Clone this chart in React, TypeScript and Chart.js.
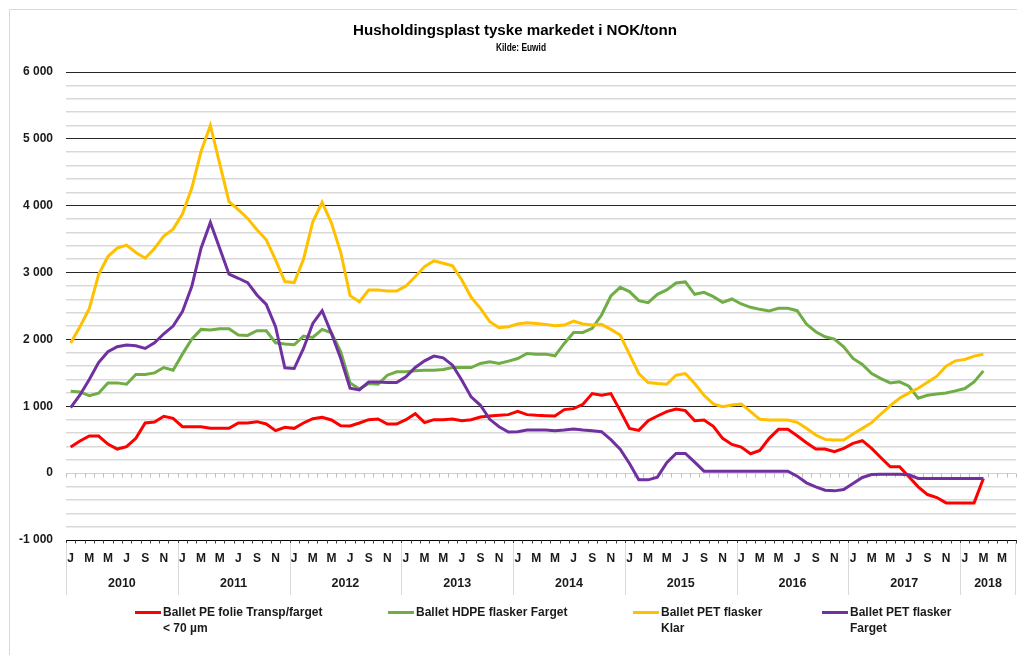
import React, { useEffect, useRef } from 'react';
import { Chart, registerables } from 'chart.js';

Chart.register(...registerables);

const FONT = '"Liberation Sans", Arial, sans-serif';

const YEARS = [2010, 2011, 2012, 2013, 2014, 2015, 2016, 2017, 2018];
const MONTHS = ['J', 'F', 'M', 'A', 'M', 'J', 'J', 'A', 'S', 'O', 'N', 'D'];
const MONTH_COUNT_2018 = 6;

// Monthly prices NOK/tonn, Jan 2010 – Mar 2018
const peFolie = [
  390, 480, 555, 555, 435, 360, 395, 520, 750, 765, 850, 820,
  695, 695, 695, 670, 670, 670, 750, 750, 770, 735, 635, 685,
  670, 750, 815, 835, 795, 710, 705, 750, 800, 810, 735, 735,
  800, 890, 755, 800, 800, 810, 785, 800, 840, 855, 865, 875,
  925, 875, 865, 860, 855, 950, 965, 1030, 1190, 1165, 1190, 935,
  670, 640, 785, 855, 920, 960, 935, 785, 795, 700, 520, 430,
  390, 290, 340, 520, 655, 655, 560, 455, 360, 360, 320, 370,
  445, 485, 370, 230, 95, 95, -55, -205, -320, -365, -445, -445,
  -445, -445, -80,
];

const hdpeFarget = [
  1225, 1215, 1160, 1195, 1350, 1350, 1330, 1475, 1475, 1500, 1580, 1540,
  1780, 2005, 2150, 2140, 2160, 2160, 2065, 2060, 2130, 2130, 1950, 1930,
  1920, 2050, 2030, 2150, 2100, 1815, 1350, 1260, 1340, 1330, 1465, 1515,
  1515, 1530, 1540, 1540, 1550, 1580, 1580, 1580, 1640, 1665, 1640, 1675,
  1715, 1790, 1780, 1780, 1755, 1940, 2105, 2105, 2165, 2365, 2650, 2780,
  2715, 2580, 2550, 2675, 2740, 2845, 2860, 2675, 2705, 2640, 2555, 2605,
  2530, 2480, 2450, 2425, 2465, 2465, 2430, 2230, 2115, 2040, 2005, 1890,
  1715, 1625, 1490, 1415, 1350, 1365, 1300, 1120, 1165, 1185, 1200, 1230,
  1265, 1365, 1530,
];

const petKlar = [
  1945, 2190, 2460, 2970, 3240, 3365, 3410, 3300, 3215, 3360, 3545, 3650,
  3875, 4260, 4810, 5200, 4630, 4060, 3940, 3810, 3640, 3490, 3190, 2865,
  2850, 3200, 3760, 4050, 3740, 3300, 2655, 2565, 2740, 2740, 2725, 2725,
  2800, 2940, 3090, 3175, 3140, 3100, 2890, 2630, 2465, 2265, 2175, 2190,
  2230, 2250, 2240, 2225, 2205, 2215, 2275, 2230, 2215, 2225, 2150, 2065,
  1775, 1490, 1355, 1340, 1330, 1465, 1490, 1340, 1165, 1035, 995, 1020,
  1035, 920, 805, 795, 795, 795, 760, 670, 570, 505, 495, 495,
  585, 670, 755, 885, 1010, 1120, 1200, 1270, 1360, 1450, 1600, 1680,
  1700, 1750, 1780,
];

const petFarget = [
  980, 1170, 1400, 1655, 1815, 1890, 1915, 1905, 1865, 1950, 2085, 2200,
  2415, 2790, 3365, 3750, 3365, 2975, 2915, 2850, 2665, 2525, 2190, 1575,
  1565, 1865, 2240, 2430, 2090, 1715, 1270, 1245, 1365, 1365, 1355, 1355,
  1440, 1580, 1680, 1750, 1725, 1615, 1390, 1140, 1015, 805, 695, 615,
  620, 645, 645, 645, 635, 645, 660, 645, 635, 620, 500, 360,
  145, -100, -100, -60, 155, 294, 294, 165, 30, 30, 30, 30,
  30, 30, 30, 30, 30, 30, -45, -145, -205, -255, -265, -245,
  -155, -65, -20, -15, -15, -15, -25, -80, -80, -80, -80, -80,
  -80, -80, -80,
];

const SERIES_NAMES = [
  ['Ballet PE folie Transp/farget', '< 70 µm'],
  ['Ballet HDPE flasker Farget'],
  ['Ballet PET flasker', 'Klar'],
  ['Ballet PET flasker', 'Farget'],
];
const SERIES_COLORS = ['#FF0000', '#70AD47', '#FFC000', '#7030A0'];
const LEGEND_X = [135, 388, 633, 822];

const TITLE = 'Husholdingsplast tyske markedet i NOK/tonn';
const SUBTITLE = 'Kilde: Euwid';

const Y_MIN = -1000;
const Y_MAX = 6000;
const Y_STEP = 200;

const categories: string[] = [];
YEARS.forEach((yr) => {
  const n = yr === 2018 ? MONTH_COUNT_2018 : 12;
  for (let m = 0; m < n; m++) categories.push(MONTHS[m] + ' ' + yr);
});

function fmt(v: number): string {
  const abs = Math.abs(v);
  const s = String(abs).replace(/\B(?=(\d{3})+(?!\d))/g, ' ');
  return v < 0 ? '-' + s : s;
}

function fittedText(ctx: CanvasRenderingContext2D, text: string, cx: number, cy: number, width: number) {
  const w = ctx.measureText(text).width;
  const sx = w > 0 ? width / w : 1;
  ctx.save();
  ctx.translate(cx, cy);
  ctx.scale(sx, 1);
  ctx.fillText(text, 0, 0);
  ctx.restore();
}

const customPlugin = {
  id: 'customDecor',
  beforeDatasetsDraw(chart: any) {
    const ctx = chart.ctx;
    const xs = chart.scales.x;
    const y0 = Math.round(chart.scales.y.getPixelForValue(0)) + 0.5;
    const bottom = Math.round(chart.chartArea.bottom) + 0.5;
    const n = categories.length;
    const band = (xs.right - xs.left) / n;
    ctx.save();
    ctx.lineWidth = 1;
    ctx.strokeStyle = '#bfbfbf';
    ctx.beginPath();
    for (let i = 0; i <= n; i++) {
      const px = Math.round(xs.left + i * band) + 0.5;
      ctx.moveTo(px, y0);
      ctx.lineTo(px, y0 + 4);
    }
    ctx.stroke();
    ctx.strokeStyle = '#404040';
    ctx.beginPath();
    for (let i = 0; i <= n; i++) {
      const px = Math.round(xs.left + i * band) + 0.5;
      ctx.moveTo(px, bottom);
      ctx.lineTo(px, bottom + 3);
    }
    ctx.stroke();
    ctx.restore();
  },
  afterDraw(chart: any) {
    const ctx = chart.ctx;
    const xs = chart.scales.x;
    const n = categories.length;
    const band = (xs.right - xs.left) / n;
    const bottom = chart.chartArea.bottom;
    ctx.save();

    // outer frame
    ctx.strokeStyle = '#d9d9d9';
    ctx.lineWidth = 1;
    ctx.beginPath();
    ctx.moveTo(9.5, 655);
    ctx.lineTo(9.5, 9.5);
    ctx.lineTo(1017, 9.5);
    ctx.stroke();

    // title
    ctx.fillStyle = '#000';
    ctx.textAlign = 'center';
    ctx.textBaseline = 'middle';
    ctx.font = 'bold 14.5px ' + FONT;
    fittedText(ctx, TITLE, 515, 31, 324);
    ctx.font = 'bold 10.5px ' + FONT;
    fittedText(ctx, SUBTITLE, 521, 48, 50);

    // year separators & labels
    let start = 0;
    ctx.strokeStyle = '#d9d9d9';
    ctx.beginPath();
    YEARS.forEach((yr) => {
      const cnt = yr === 2018 ? MONTH_COUNT_2018 : 12;
      const x0 = xs.left + start * band;
      const x1 = xs.left + (start + cnt) * band;
      const px = Math.round(x0) + 0.5;
      ctx.moveTo(px, bottom + 3);
      ctx.lineTo(px, bottom + 55);
      start += cnt;
      ctx.fillStyle = '#1a1a1a';
      ctx.font = 'bold 12.5px ' + FONT;
      ctx.fillText(String(yr), (x0 + x1) / 2, bottom + 44);
      if (start >= n) {
        const pe = Math.round(x1) - 0.5;
        ctx.moveTo(pe, bottom + 3);
        ctx.lineTo(pe, bottom + 55);
      }
    });
    ctx.stroke();

    // legend
    ctx.textAlign = 'left';
    ctx.font = 'bold 12px ' + FONT;
    SERIES_NAMES.forEach((lines, i) => {
      const lx = LEGEND_X[i];
      ctx.strokeStyle = SERIES_COLORS[i];
      ctx.lineWidth = 3;
      ctx.beginPath();
      ctx.moveTo(lx, 612.5);
      ctx.lineTo(lx + 26, 612.5);
      ctx.stroke();
      ctx.fillStyle = '#1a1a1a';
      lines.forEach((t, j) => {
        ctx.fillText(t, lx + 28, 613 + j * 16);
      });
    });
    ctx.restore();
  },
};

export default function App() {
  const canvasRef = useRef<HTMLCanvasElement | null>(null);

  useEffect(() => {
    const canvas = canvasRef.current;
    if (!canvas) return;
    const datasets = [peFolie, hdpeFarget, petKlar, petFarget].map((d, i) => ({
      label: SERIES_NAMES[i].join(' '),
      data: d,
      borderColor: SERIES_COLORS[i],
      backgroundColor: SERIES_COLORS[i],
      borderWidth: 3,
      pointRadius: 0,
      tension: 0,
      fill: false,
      order: 3 - i,
    }));

    const chart = new Chart(canvas, {
      type: 'line',
      data: { labels: categories, datasets },
      options: {
        responsive: false,
        animation: false,
        devicePixelRatio: 1,
        layout: { padding: { left: 0, top: 72, right: 1, bottom: 0 } },
        plugins: {
          legend: { display: false },
          title: { display: false },
          tooltip: { enabled: false },
        },
        scales: {
          x: {
            type: 'category',
            offset: true,
            afterFit: (s: any) => {
              s.height = 115;
            },
            grid: {
              offset: true,
              drawOnChartArea: false,
              drawTicks: true,
              tickLength: 6,
              color: 'rgba(0,0,0,0)',
            },
            border: { display: true, color: '#000', width: 1 },
            ticks: {
              autoSkip: false,
              maxRotation: 0,
              minRotation: 0,
              padding: 5,
              color: '#1a1a1a',
              font: { family: FONT, weight: 'bold', size: 12 },
              callback: (_v: any, index: number) => {
                const m = index % 12;
                return m % 2 === 0 ? MONTHS[m] : '';
              },
            },
          },
          y: {
            min: Y_MIN,
            max: Y_MAX,
            afterFit: (s: any) => {
              s.width = 66;
            },
            border: { display: false },
            grid: {
              drawTicks: false,
              color: (c: any) => {
                const v = c.tick.value;
                if (v === 0) return '#d0d0d0';
                return v % 1000 === 0 ? '#262626' : '#d9d9d9';
              },
              lineWidth: (c: any) => {
                const v = c.tick.value;
                if (v === 0) return 1;
                return v % 1000 === 0 ? 1 : 1.5;
              },
            },
            ticks: {
              stepSize: Y_STEP,
              autoSkip: false,
              padding: 13,
              color: '#1a1a1a',
              font: { family: FONT, weight: 'bold', size: 12 },
              callback: (v: any) => (Number(v) % 1000 === 0 ? fmt(Number(v)) : ''),
            },
          },
        },
      },
      plugins: [customPlugin],
    } as any);

    return () => {
      chart.destroy();
    };
  }, []);

  return (
    <div style={{ position: 'absolute', left: 0, top: 0, width: 1017, height: 655, background: '#fff' }}>
      <canvas ref={canvasRef} width={1017} height={655} style={{ display: 'block', width: 1017, height: 655 }} />
    </div>
  );
}
